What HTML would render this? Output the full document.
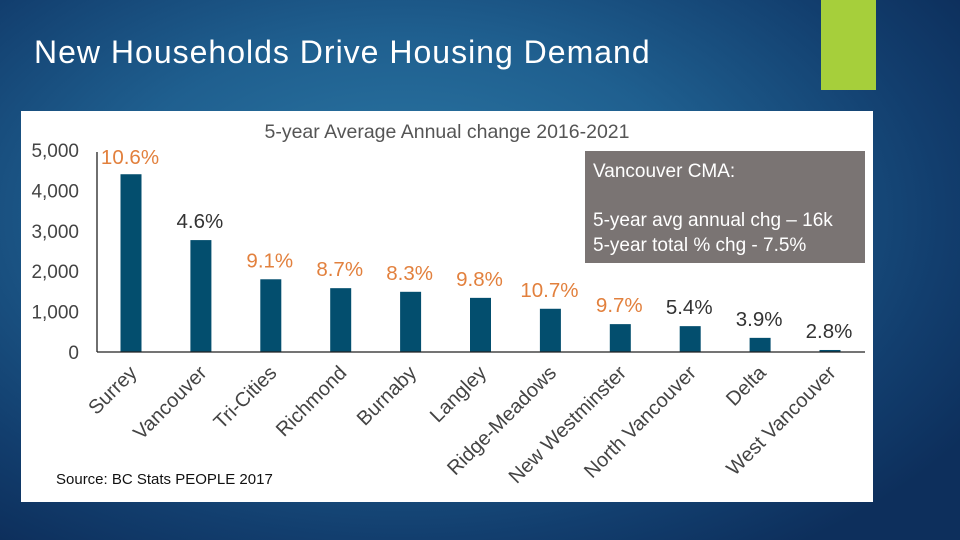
<!DOCTYPE html>
<html><head><meta charset="utf-8"><style>
html,body{margin:0;padding:0;}
body{width:960px;height:540px;overflow:hidden;position:relative;font-family:"Liberation Sans",sans-serif;
background:radial-gradient(ellipse 70% 75% at 42% 40%,#2d7aa6 0%,#1f5f8f 45%,#123e6e 80%,#0d2f5c 100%);}
#title{position:absolute;left:34px;top:36px;color:#fff;font-size:32px;line-height:32px;letter-spacing:1px;white-space:nowrap;}
#green{position:absolute;left:821px;top:0;width:55px;height:90px;background:#a6cf3b;}
#panel{position:absolute;left:21px;top:111px;width:852px;height:391px;background:#fff;}
</style></head><body>
<div id="title">New Households Drive Housing Demand</div>
<div id="green"></div>
<div id="panel"></div>
<svg id="chart" width="960" height="540" style="position:absolute;left:0;top:0"></svg>
<script>
const categories=["Surrey","Vancouver","Tri-Cities","Richmond","Burnaby","Langley","Ridge-Meadows","New Westminster","North Vancouver","Delta","West Vancouver"];
const values=[4400,2770,1800,1580,1490,1340,1070,690,640,350,50];
const pctLabels=["10.6%","4.6%","9.1%","8.7%","8.3%","9.8%","10.7%","9.7%","5.4%","3.9%","2.8%"];
const pctOrange=[true,false,true,true,true,true,true,true,false,false,false];
const yTicks=[0,1000,2000,3000,4000,5000];
const yTickLabels=["0","1,000","2,000","3,000","4,000","5,000"];
const NS="http://www.w3.org/2000/svg";
const svg=document.getElementById('chart');
const y0=352,y1=150,x0=97,x1=865,first=131,step=69.9,bw=21;
function y(v){return y0-(v/5000)*(y0-y1);}
function x(i){return first+i*step;}
function mk(t,a,txt){const e=document.createElementNS(NS,t);for(const k in a)e.setAttribute(k,a[k]);if(txt!==undefined)e.textContent=txt;svg.appendChild(e);return e;}
let e;
e=mk('text',{x:447,y:138,'font-size':19.5,fill:'#555','text-anchor':'middle'},'5-year Average Annual change 2016-2021');


yTicks.forEach((t,i)=>{
 e=mk('text',{x:79,y:y(t)+7,'font-size':19,fill:'#444','text-anchor':'end'},yTickLabels[i]);
 
 
});
e=mk('line',{x1:x0,y1:152,x2:x0,y2:y0,stroke:'#222','stroke-width':1.3});


categories.forEach((c,i)=>{
 e=mk('rect',{x:x(i)-bw/2,y:y(values[i]),width:bw,height:y0-y(values[i]),fill:'#034e6e'});
 
 
 e=mk('text',{x:x(i)-1,y:Math.max(y(values[i])-12,164),'font-size':20.5,fill:pctOrange[i]?'#e2803d':'#333','text-anchor':'middle'},pctLabels[i]);
 
 
 const lx=x(i)+7,ly=374;
 e=mk('text',{x:lx,y:ly,'font-size':20,fill:'#444','text-anchor':'end',transform:`rotate(-45 ${lx} ${ly})`},c);
 
 
});
e=mk('line',{x1:x0,y1:y0,x2:x1,y2:y0,stroke:'#222','stroke-width':1.3});


e=mk('rect',{x:585,y:151,width:280,height:112,fill:'#7a7473'});


[["Vancouver CMA:",177],["5-year avg annual chg – 16k",226],["5-year total % chg - 7.5%",251]].forEach(r=>{
 e=mk('text',{x:593,y:r[1],'font-size':19,fill:'#fff'},r[0]);
 
 
});
e=mk('text',{x:56,y:484,'font-size':15,fill:'#111'},'Source: BC Stats PEOPLE 2017');


</script>
</body></html>
